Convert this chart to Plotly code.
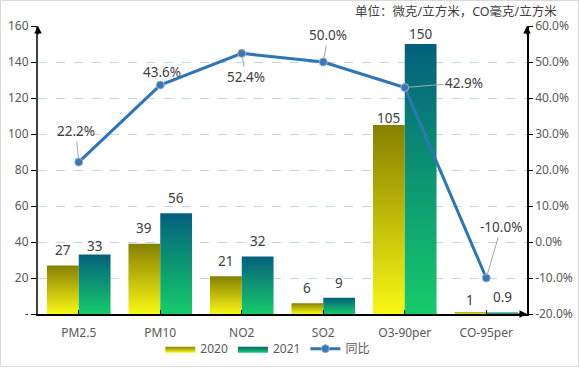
import plotly.graph_objects as go

categories = ["PM2.5", "PM10", "NO2", "SO2", "O3-90per", "CO-95per"]
v2020 = [27, 39, 21, 6, 105, 1]
v2021 = [33, 56, 32, 9, 150, 0.9]
yoy = [22.2, 43.6, 52.4, 50.0, 42.9, -10.0]
labels2020 = ["27", "39", "21", "6", "105", "1"]
labels2021 = ["33", "56", "32", "9", "150", "0.9"]
yoy_labels = ["22.2%", "43.6%", "52.4%", "50.0%", "42.9%", "-10.0%"]
y_tickvals = [0, 20, 40, 60, 80, 100, 120, 140, 160]
y_ticktext = ["-", "20", "40", "60", "80", "100", "120", "140", "160"]
y2_tickvals = [-20, -10, 0, 10, 20, 30, 40, 50, 60]
y2_ticktext = ["-20.0%", "-10.0%", "0.0%", "10.0%", "20.0%", "30.0%", "40.0%", "50.0%", "60.0%"]
unit_text = "单位：微克/立方米，CO毫克/立方米"

FONT = "Noto Sans, Noto Sans CJK SC, sans-serif"
W, H = 580, 368
ML, MR, MT, MB = 38, 53, 26, 54
BW = 0.39  # bar width in category units

# label placement (pixels above bar top)
shift2020 = [15, 16, 15, 15, 7, 12]
shift2021 = [9, 15, 15, 15, 10, 15]

c2020 = [[0, "#f9f815"], [1, "#878000"]]
c2021 = [[0, "#16cb6a"], [1, "#03607c"]]

fig = go.Figure()
idx = list(range(len(categories)))

def add_bars(vals, side, cs, name):
    for i, v in zip(idx, vals):
        x0 = i + (-BW if side < 0 else 0)
        x1 = x0 + BW
        fig.add_trace(go.Scatter(
            x=[x0, x1, x1, x0, x0], y=[0, 0, v, v, 0],
            mode="lines", line=dict(width=0), fill="toself",
            fillgradient=dict(type="vertical", colorscale=cs, start=0, stop=v),
            name=name, legendgroup=name, showlegend=(i == 0),
            hoverinfo="skip"))

add_bars(v2020, -1, c2020, "2020")
add_bars(v2021, 1, c2021, "2021")

# bar value labels
for side, vals, labs, shifts in ((-1, v2020, labels2020, shift2020),
                                 (1, v2021, labels2021, shift2021)):
    for i, v, t, s in zip(idx, vals, labs, shifts):
        fig.add_annotation(x=i + side * BW / 2, y=v, xref="x", yref="y", text=t,
                           showarrow=False, yanchor="middle", yshift=s,
                           font=dict(size=13.5, color="#404040"))

fig.add_trace(go.Scatter(
    x=idx, y=yoy, yaxis="y2", mode="lines+markers", name="同比",
    line=dict(color="#2e75b6", width=3),
    marker=dict(symbol="circle", size=8, color="#3a78b5",
                line=dict(color="#9fb3c8", width=1)),
    hoverinfo="skip"))

offsets = [(-3, -31), (2, -13), (4, 24), (5, -27), (59, -5), (15, -51)]
for i, v, t, (ax, ay) in zip(idx, yoy, yoy_labels, offsets):
    fig.add_annotation(x=i, y=v, xref="x", yref="y2", text=t, showarrow=True,
                       arrowhead=0, arrowwidth=1, arrowcolor="#a6a6a6",
                       ax=ax, ay=ay, standoff=4,
                       font=dict(size=13.5, color="#404040"))

# axis arrows
fig.add_annotation(x=0, y=1, xref="paper", yref="paper", ax=0, ay=10, text="",
                   showarrow=True, arrowhead=2, arrowsize=1, arrowwidth=1.5, arrowcolor="#000000")
fig.add_annotation(x=1, y=1, xref="paper", yref="paper", ax=0, ay=10, text="",
                   showarrow=True, arrowhead=2, arrowsize=1, arrowwidth=1.5, arrowcolor="#000000")
fig.add_annotation(x=1, y=0, xref="paper", yref="paper", ax=-10, ay=0, text="",
                   showarrow=True, arrowhead=2, arrowsize=1, arrowwidth=1.5, arrowcolor="#000000")

fig.add_annotation(x=1.066, y=1.052, xref="paper", yref="paper", text=unit_text,
                   showarrow=False, xanchor="right", yanchor="middle",
                   font=dict(size=12.5, color="#404040"))

# outer border
pw, ph = W - ML - MR, H - MT - MB
fig.add_shape(type="rect", xref="paper", yref="paper",
              x0=-(ML - 0.5) / pw, x1=1 + (MR - 1.5) / pw,
              y0=-(MB - 1.5) / ph, y1=1 + (MT - 0.5) / ph,
              line=dict(color="#d9d9d9", width=1), fillcolor="rgba(0,0,0,0)")

fig.update_layout(
    width=W, height=H, margin=dict(l=ML, r=MR, t=MT, b=MB, autoexpand=False),
    paper_bgcolor="white", plot_bgcolor="white",
    font=dict(family=FONT, size=12, color="#595959"),
    xaxis=dict(range=[-0.5, len(categories) - 0.5], tickvals=idx, ticktext=categories,
               showgrid=False, zeroline=False, showline=True, linecolor="#000000",
               linewidth=2, ticks="inside", ticklen=4, tickcolor="#000000",
               ticklabelstandoff=7,
               tickfont=dict(size=12, color="#595959"), automargin=False),
    yaxis=dict(range=[0, 160], tickvals=y_tickvals, ticktext=y_ticktext,
               showgrid=True, gridcolor="#bdd7ee", griddash="dash", gridwidth=1,
               zeroline=False, showline=True, linecolor="#404040", linewidth=2,
               ticks="outside", ticklen=5, tickcolor="#000000",
               tickfont=dict(size=12, color="#595959"), automargin=False),
    yaxis2=dict(range=[-20, 60], tickvals=y2_tickvals, ticktext=y2_ticktext,
                overlaying="y", side="right", showgrid=False, zeroline=False,
                showline=True, linecolor="#000000", linewidth=1.5,
                ticks="outside", ticklen=4, tickcolor="#000000",
                tickfont=dict(size=12, color="#595959"), automargin=False),
    legend=dict(orientation="h", x=0.47, xanchor="center", y=-0.07, yanchor="top",
                font=dict(size=12, color="#595959"), itemwidth=30,
                bgcolor="rgba(0,0,0,0)"),
    showlegend=True,
)

fig.write_html("out.html", config={"displayModeBar": False},
               post_script="document.body.style.margin='0';document.body.style.padding='0';")
